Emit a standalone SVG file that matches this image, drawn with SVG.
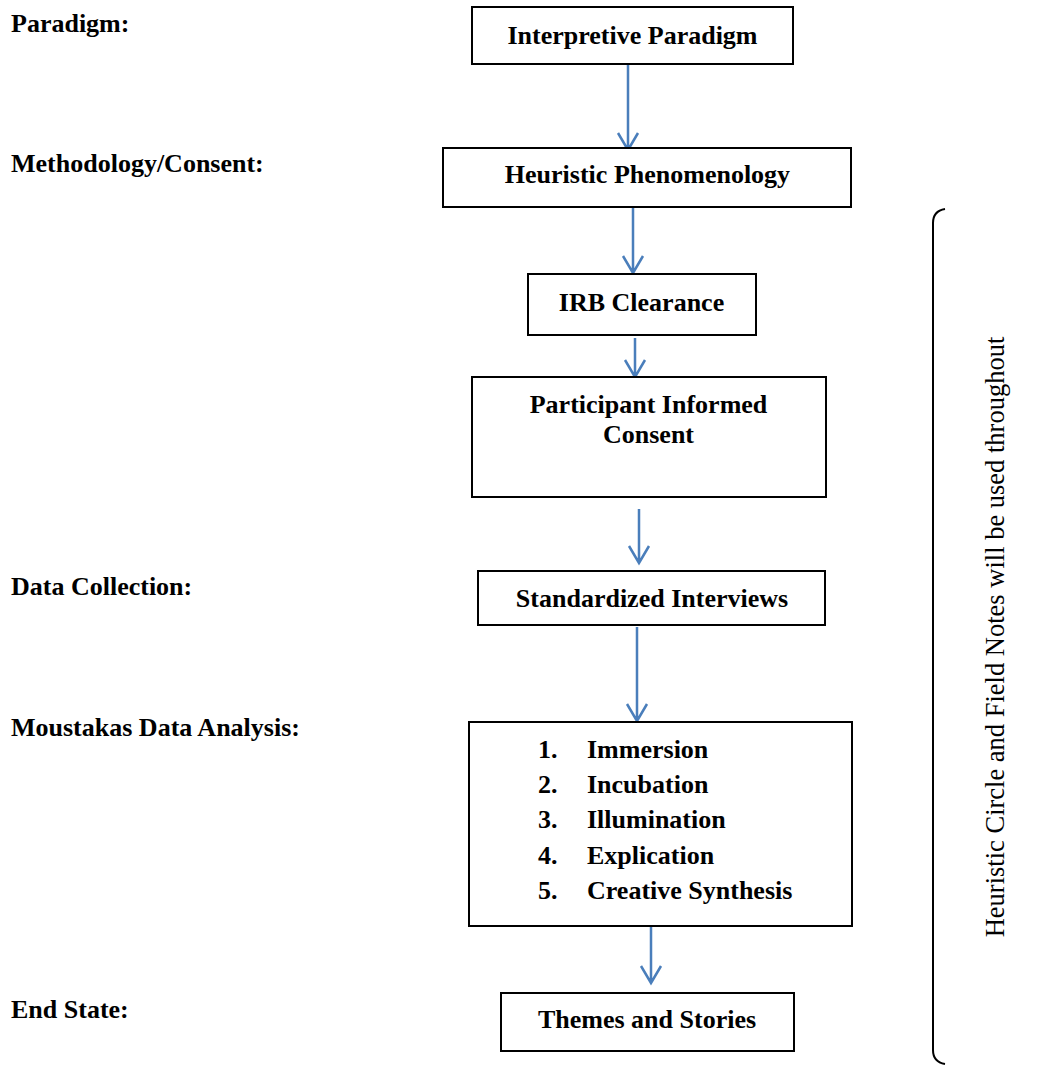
<svg xmlns="http://www.w3.org/2000/svg" width="1063" height="1065" viewBox="0 0 1063 1065">
<style>
.box{fill:#fff;stroke:#000;stroke-width:2}
.t{font-family:"Liberation Serif","Times New Roman",serif;font-weight:bold;font-size:26px;fill:#000}
.lbl{font-family:"Liberation Serif","Times New Roman",serif;font-weight:bold;font-size:26px;fill:#000}
.c{text-anchor:middle}
.arr{stroke:#4a7ebb;stroke-width:2.5;fill:none}
.brace{stroke:#000;stroke-width:2;fill:none}
.side{font-family:"Liberation Serif","Times New Roman",serif;font-size:26.5px;fill:#000}
</style>
<rect width="1063" height="1065" fill="#fff"/>
<g id="labels">
<text class="lbl" x="11" y="32">Paradigm:</text>
<text class="lbl" x="11" y="172">Methodology/Consent:</text>
<text class="lbl" x="11" y="595">Data Collection:</text>
<text class="lbl" x="11" y="736">Moustakas Data Analysis:</text>
<text class="lbl" x="11" y="1018">End State:</text>
</g>
<g id="connectors">
<path class="arr" d="M628 64V150M618 133L628 150L638 133"/>
<path class="arr" d="M633 207V273M623 256L633 273L643 256"/>
<path class="arr" d="M635 338V377M625 360L635 377L645 360"/>
<path class="arr" d="M639 509V563M629 546L639 563L649 546"/>
<path class="arr" d="M637 627V721M627 704L637 721L647 704"/>
<path class="arr" d="M651 926V983M641 966L651 983L661 966"/>
</g>
<g id="n1"><rect class="box" x="472" y="7" width="321" height="57"/><text class="t c" x="632.5" y="44">Interpretive Paradigm</text></g>
<g id="n2"><rect class="box" x="443" y="148" width="408" height="59"/><text class="t c" x="647.5" y="183">Heuristic Phenomenology</text></g>
<g id="n3"><rect class="box" x="528" y="274" width="228" height="61"/><text class="t c" x="641.5" y="311">IRB Clearance</text></g>
<g id="n4"><rect class="box" x="472" y="377" width="354" height="120"/><text class="t c" x="648.5" y="413">Participant Informed</text><text class="t c" x="648.5" y="443">Consent</text></g>
<g id="n5"><rect class="box" x="478" y="571" width="347" height="54"/><text class="t c" x="652" y="607">Standardized Interviews</text></g>
<g id="n6"><rect class="box" x="469" y="722" width="383" height="204"/>
<text class="t" x="538" y="758">1.</text><text class="t" x="587" y="758">Immersion</text>
<text class="t" x="538" y="793">2.</text><text class="t" x="587" y="793">Incubation</text>
<text class="t" x="538" y="828">3.</text><text class="t" x="587" y="828">Illumination</text>
<text class="t" x="538" y="864">4.</text><text class="t" x="587" y="864">Explication</text>
<text class="t" x="538" y="899">5.</text><text class="t" x="587" y="899">Creative Synthesis</text>
</g>
<g id="n7"><rect class="box" x="501" y="993" width="293" height="58"/><text class="t c" x="647" y="1028">Themes and Stories</text></g>
<g id="brace">
<path class="brace" d="M945 209Q933 211 933 223V1050Q933 1062 945 1064"/>
<text class="side c" transform="translate(1004 637) rotate(-90)">Heuristic Circle and Field Notes will be used throughout</text>
</g>
</svg>
